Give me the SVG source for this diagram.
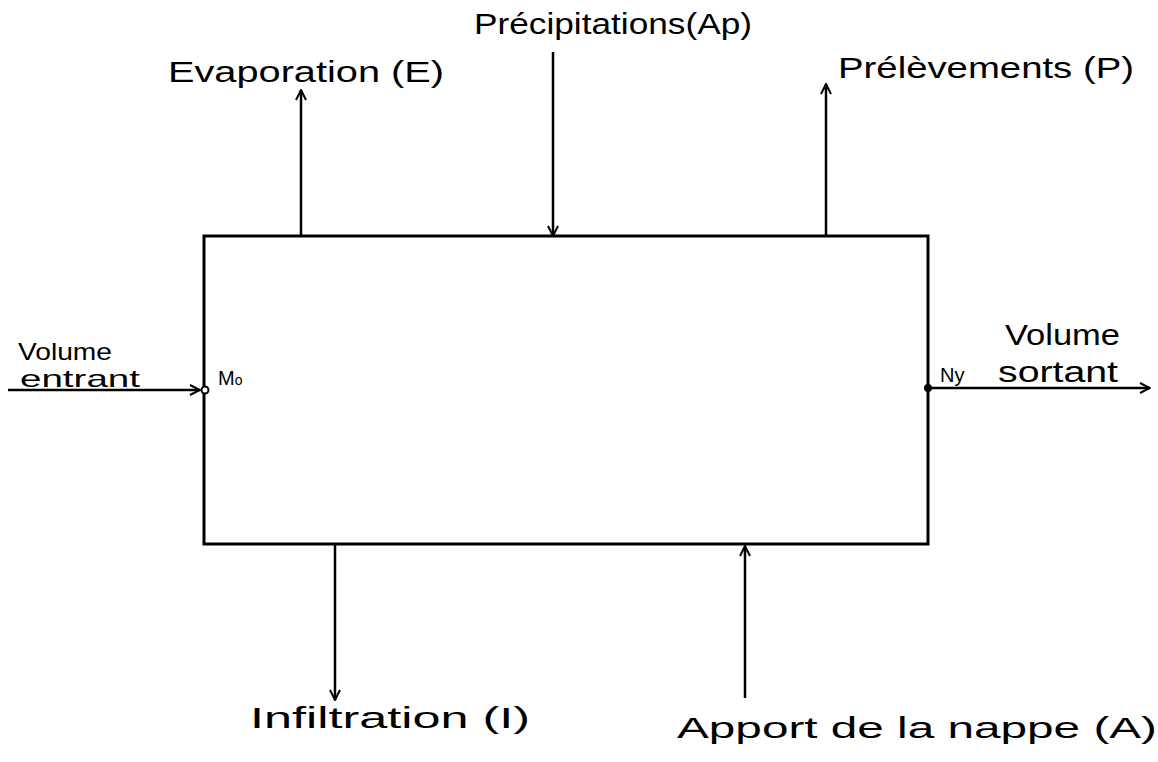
<svg xmlns="http://www.w3.org/2000/svg" width="1158" height="762" viewBox="0 0 1158 762">
<defs>
<marker id="arr" viewBox="0 0 12 12" refX="11" refY="6" markerWidth="12" markerHeight="12" markerUnits="userSpaceOnUse" orient="auto">
<path d="M1,1 L11,6 L1,11" fill="none" stroke="#000" stroke-width="2"/>
</marker>
</defs>
<style>
.t{font-family:"Liberation Sans",Arial,sans-serif;font-size:30px;fill:#000}
.m{font-family:"Liberation Sans",Arial,sans-serif;font-size:24px;fill:#000}
.s{font-family:"Liberation Sans",Arial,sans-serif;font-size:20px;fill:#000}
.c{stroke:#000;stroke-width:2.5;fill:none}
</style>
<rect width="1158" height="762" fill="#fff"/>
<g id="box"><rect x="204" y="236" width="724" height="308" fill="none" stroke="#000" stroke-width="3"/></g>
<g id="connectors">
<line class="c" x1="301" y1="236" x2="301" y2="90" marker-end="url(#arr)"/>
<line class="c" x1="553" y1="52" x2="553" y2="236" marker-end="url(#arr)"/>
<line class="c" x1="826" y1="236" x2="826" y2="84" marker-end="url(#arr)"/>
<line class="c" x1="335" y1="544" x2="335" y2="700" marker-end="url(#arr)"/>
<line class="c" x1="745" y1="698" x2="745" y2="546" marker-end="url(#arr)"/>
<line class="c" x1="8" y1="390" x2="200" y2="390" marker-end="url(#arr)"/>
<line class="c" x1="928" y1="388" x2="1150" y2="388" marker-end="url(#arr)"/>
<circle cx="205" cy="390" r="3.5" fill="#fff" stroke="#000" stroke-width="2"/>
<circle cx="928" cy="388" r="4" fill="#000"/>
</g>
<g id="evaporation"><text class="t" x="168" y="82" textLength="276" lengthAdjust="spacingAndGlyphs">Evaporation (E)</text></g>
<g id="precipitations"><text class="t" x="474" y="34" textLength="278" lengthAdjust="spacingAndGlyphs">Précipitations(Ap)</text></g>
<g id="prelevements"><text class="t" x="838" y="78" textLength="296" lengthAdjust="spacingAndGlyphs">Prélèvements (P)</text></g>
<g id="infiltration"><text class="t" x="250" y="728" textLength="280" lengthAdjust="spacingAndGlyphs">Infiltration (I)</text></g>
<g id="apport"><text class="t" x="677" y="738" textLength="480" lengthAdjust="spacingAndGlyphs">Apport de la nappe (A)</text></g>
<g id="entrant">
<text class="m" x="18" y="360" textLength="94" lengthAdjust="spacingAndGlyphs">Volume</text>
<text class="m" x="20" y="387" textLength="120" lengthAdjust="spacingAndGlyphs">entrant</text>
<text class="s" x="218" y="385">M<tspan font-size="14">o</tspan></text>
</g>
<g id="sortant">
<text class="t" x="1005" y="345" textLength="115" lengthAdjust="spacingAndGlyphs">Volume</text>
<text class="s" x="940" y="382">Ny</text>
<text class="t" x="998" y="382" textLength="120" lengthAdjust="spacingAndGlyphs">sortant</text>
</g>
</svg>
